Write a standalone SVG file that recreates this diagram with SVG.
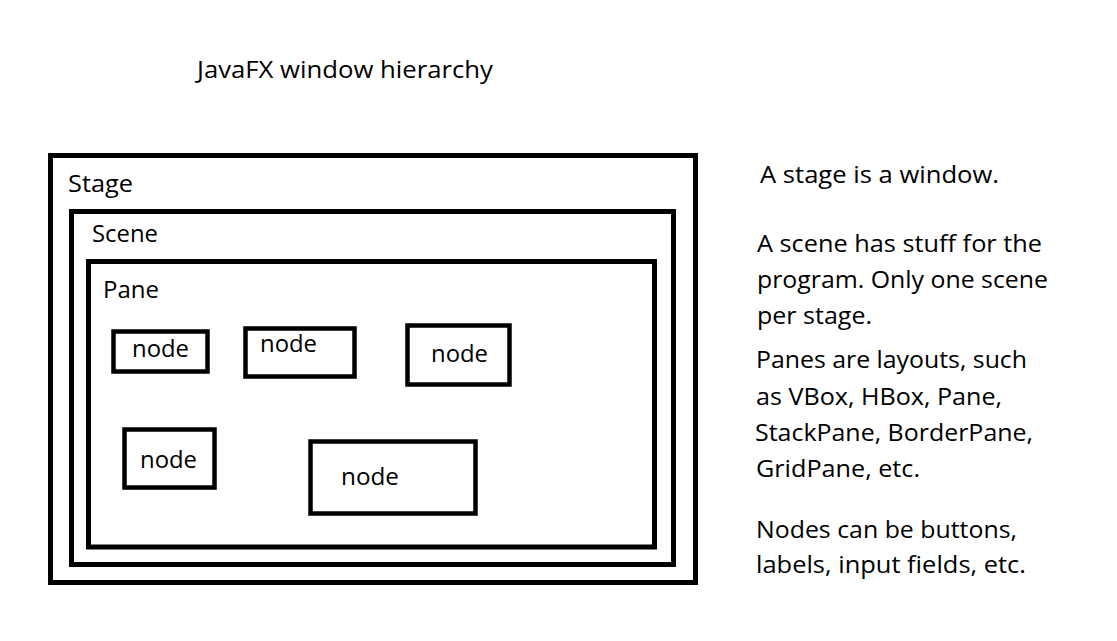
<svg xmlns="http://www.w3.org/2000/svg" width="1117" height="641" viewBox="0 0 1117 641">
<style>
text{font-family:"Open Sans","Noto Sans","DejaVu Sans",sans-serif;font-size:24px;fill:#000}
.box{fill:none;stroke:#000;stroke-width:5}
.nb{fill:none;stroke:#000;stroke-width:4.5}
</style>
<rect width="1117" height="641" fill="#fff"/>
<text x="197" y="78" textLength="296" lengthAdjust="spacingAndGlyphs">JavaFX window hierarchy</text>
<g id="stage">
<rect class="box" x="50.5" y="155.5" width="645" height="427"/>
<text x="68" y="192" textLength="65" lengthAdjust="spacingAndGlyphs">Stage</text>
</g>
<g id="scene">
<rect class="box" x="71.5" y="211.5" width="602" height="353"/>
<text x="92" y="242" textLength="66" lengthAdjust="spacingAndGlyphs">Scene</text>
</g>
<g id="pane">
<rect class="box" x="88.5" y="261.5" width="566" height="285.5"/>
<text x="103" y="298" textLength="56" lengthAdjust="spacingAndGlyphs">Pane</text>
</g>
<g id="node1">
<rect class="nb" x="113.5" y="331.5" width="94" height="40"/>
<text x="132" y="357" textLength="57" lengthAdjust="spacingAndGlyphs">node</text>
</g>
<g id="node2">
<rect class="nb" x="245.5" y="328.5" width="109" height="48"/>
<text x="260" y="352" textLength="57" lengthAdjust="spacingAndGlyphs">node</text>
</g>
<g id="node3">
<rect class="nb" x="407.5" y="325.5" width="102" height="59"/>
<text x="431" y="362" textLength="57" lengthAdjust="spacingAndGlyphs">node</text>
</g>
<g id="node4">
<rect class="nb" x="124.5" y="429.5" width="90" height="58"/>
<text x="140" y="468" textLength="57" lengthAdjust="spacingAndGlyphs">node</text>
</g>
<g id="node5">
<rect class="nb" x="310.5" y="441.5" width="165" height="72"/>
<text x="341" y="485" textLength="58" lengthAdjust="spacingAndGlyphs">node</text>
</g>
<g id="connectors"></g>
<g id="notes">
<text x="760" y="183" textLength="239" lengthAdjust="spacingAndGlyphs">A stage is a window.</text>
<text x="757" y="252" textLength="285" lengthAdjust="spacingAndGlyphs">A scene has stuff for the</text>
<text x="757" y="288" textLength="291" lengthAdjust="spacingAndGlyphs">program. Only one scene</text>
<text x="757" y="324" textLength="115" lengthAdjust="spacingAndGlyphs">per stage.</text>
<text x="756" y="368" textLength="271" lengthAdjust="spacingAndGlyphs">Panes are layouts, such</text>
<text x="756" y="405" textLength="246" lengthAdjust="spacingAndGlyphs">as VBox, HBox, Pane,</text>
<text x="755" y="441" textLength="278" lengthAdjust="spacingAndGlyphs">StackPane, BorderPane,</text>
<text x="756" y="477" textLength="164" lengthAdjust="spacingAndGlyphs">GridPane, etc.</text>
<text x="756" y="538" textLength="261" lengthAdjust="spacingAndGlyphs">Nodes can be buttons,</text>
<text x="756" y="573" textLength="270" lengthAdjust="spacingAndGlyphs">labels, input fields, etc.</text>
</g>
</svg>
